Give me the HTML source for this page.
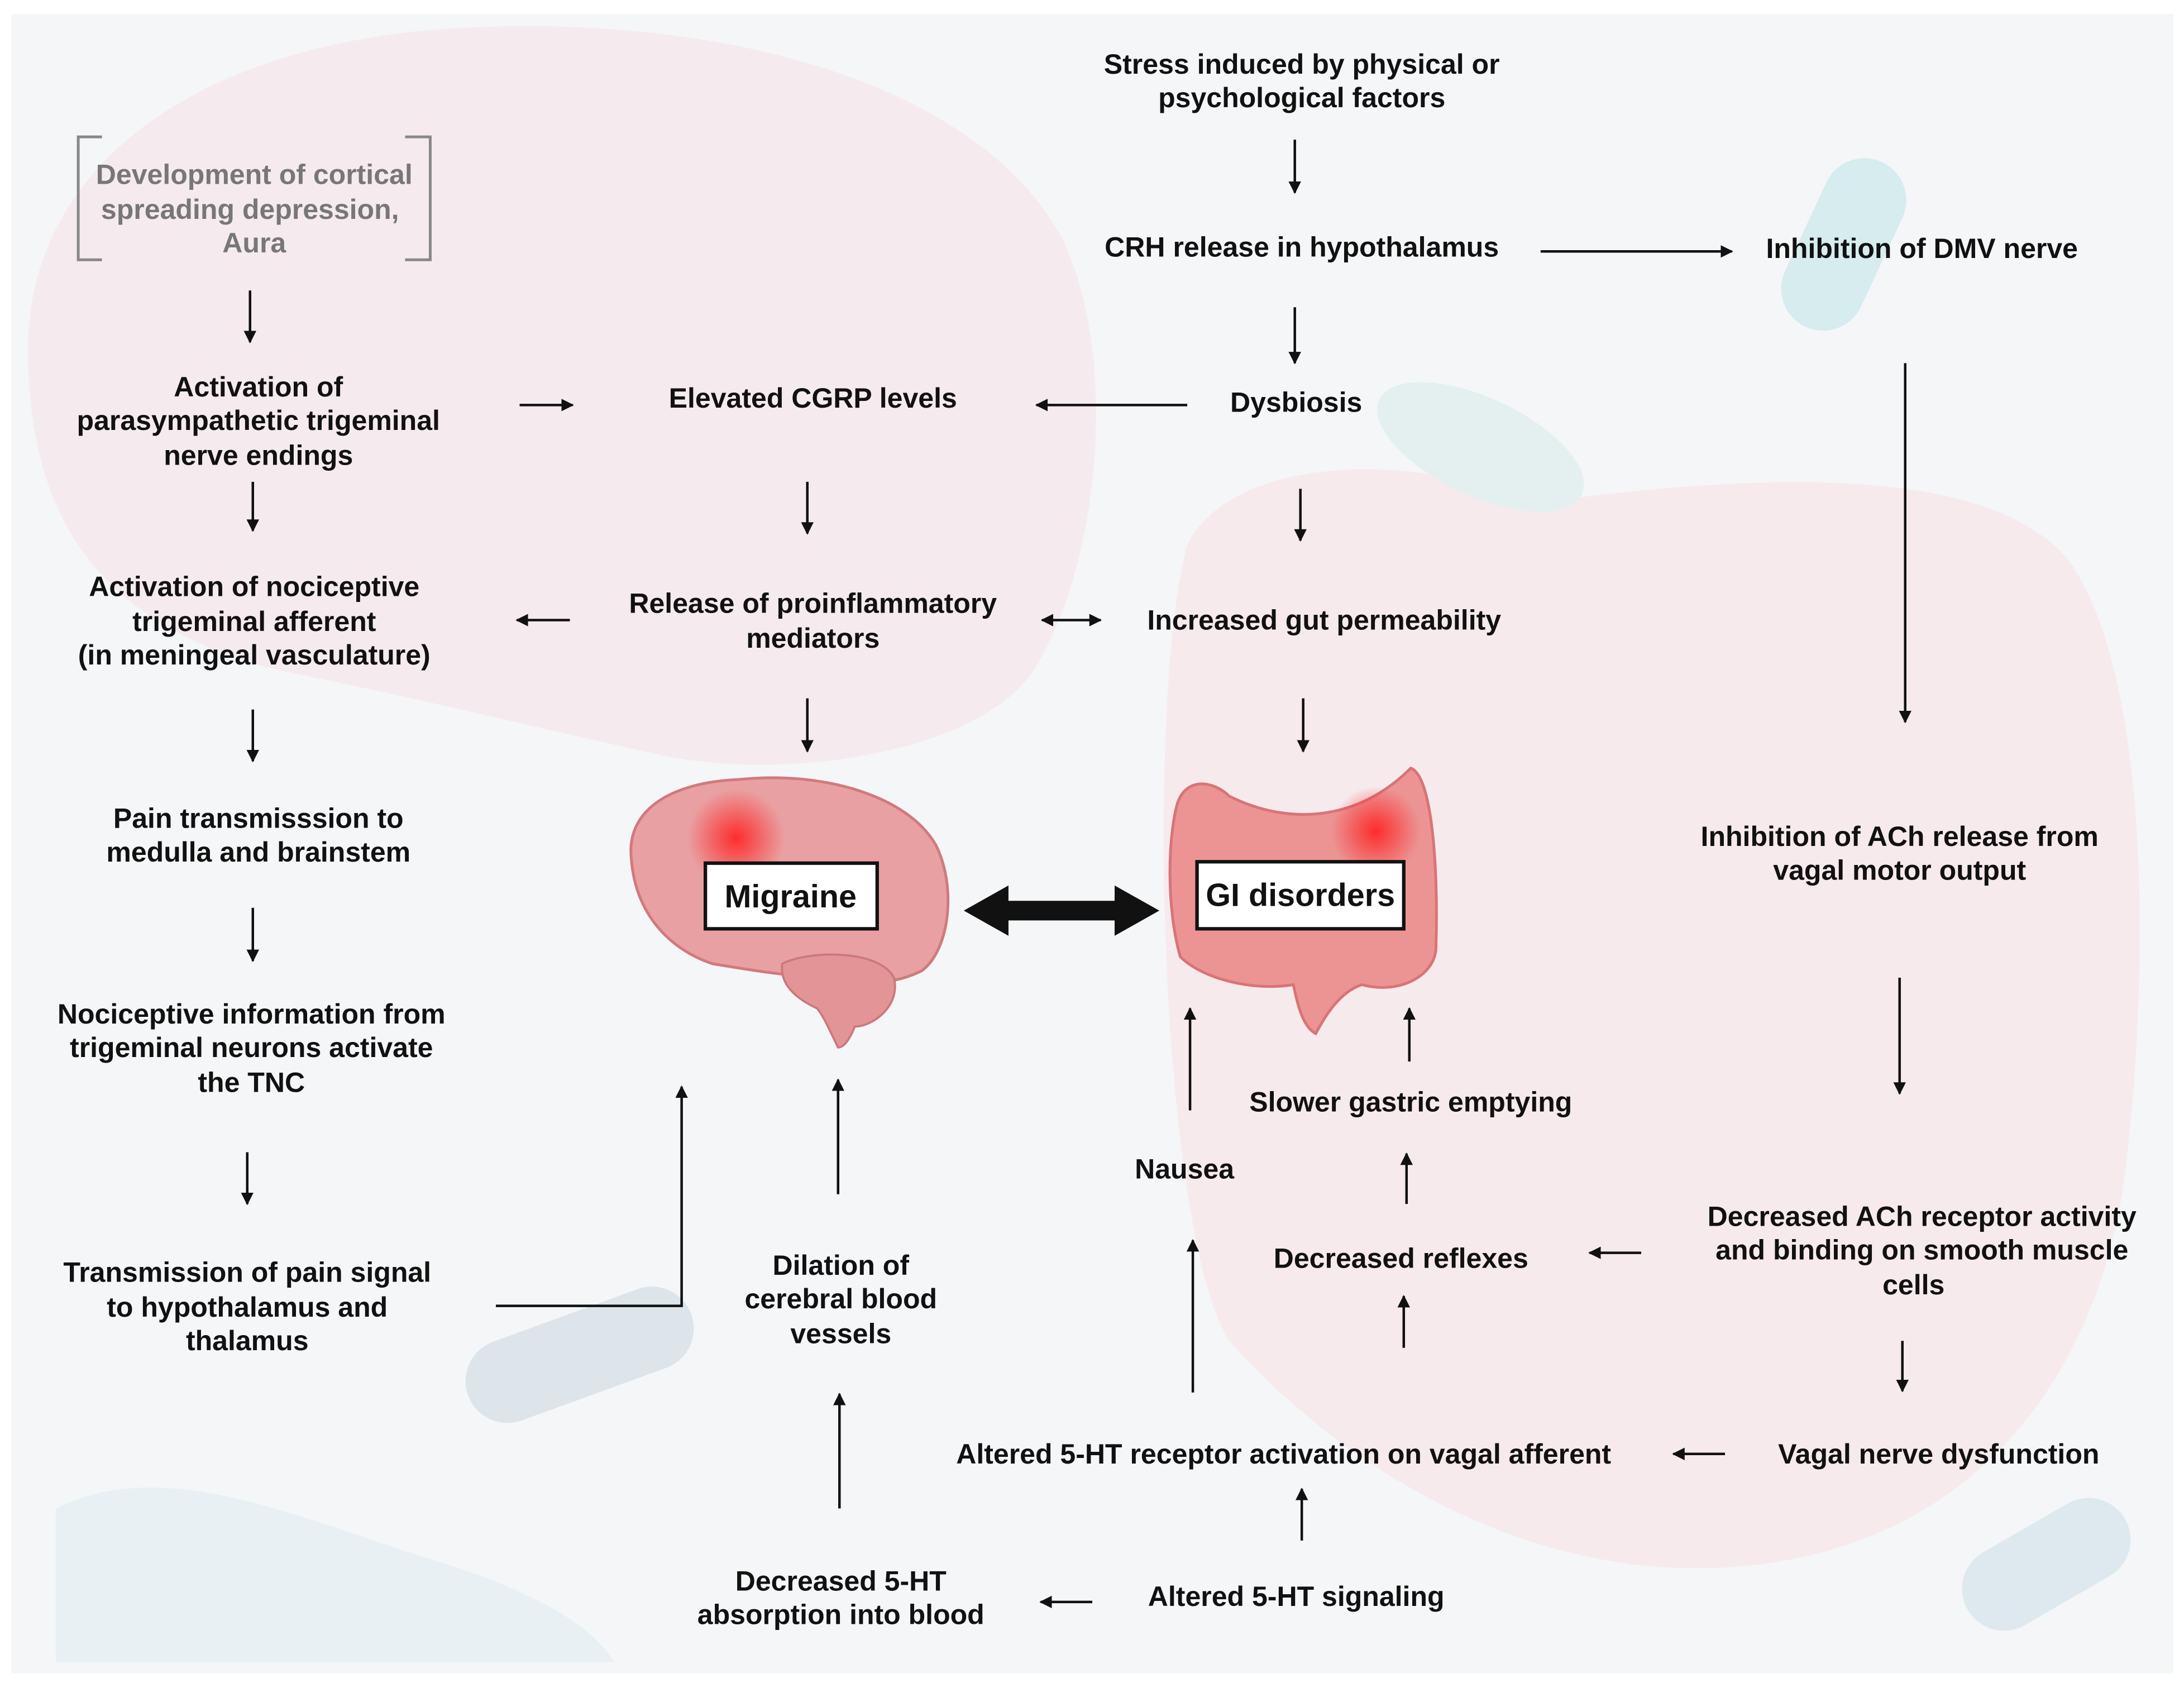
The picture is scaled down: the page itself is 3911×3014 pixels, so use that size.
<!DOCTYPE html>
<html><head><meta charset="utf-8"><style>
html,body{margin:0;padding:0;background:#fff}
svg{display:block}
text{font-family:"Liberation Sans",sans-serif;font-weight:bold;font-size:20px;fill:#111;text-anchor:middle;dominant-baseline:central}
</style></head><body>
<svg width="3911" height="3014" viewBox="0 0 1563.6 1205" xmlns="http://www.w3.org/2000/svg">
<defs>
<marker id="a" viewBox="0 0 10 10" refX="9" refY="5" markerWidth="5" markerHeight="5" orient="auto-start-reverse"><path d="M0,0L10,5L0,10z" fill="#111"/></marker>
<radialGradient id="hot"><stop offset="0" stop-color="#ff2020" stop-opacity=".9"/><stop offset="1" stop-color="#ff2020" stop-opacity="0"/></radialGradient>
</defs>
<rect x="8" y="10" width="1548" height="1188" fill="#f4f6f8"/>
<!-- faint background shapes -->
<path d="M20,250 C20,120 140,30 330,20 C520,10 700,60 760,170 C800,250 790,400 740,480 C700,540 560,560 470,540 C380,520 300,500 200,480 C80,450 20,380 20,250z" fill="#f6e2e5" opacity=".55"/>
<path d="M850,390 C880,330 1000,320 1100,360 C1250,340 1420,330 1480,400 C1540,480 1540,700 1520,850 C1500,980 1420,1100 1260,1120 C1100,1140 960,1050 880,960 C830,880 820,500 850,390z" fill="#f6e2e5" opacity=".6"/>
<rect x="330" y="940" width="170" height="60" rx="30" transform="rotate(-20 415 970)" fill="#dde5ea"/>
<path d="M40,1080 C120,1040 220,1090 320,1120 C380,1140 420,1160 440,1190 L40,1190z" fill="#e2eef1" opacity=".7"/>
<rect x="1290" y="110" width="60" height="130" rx="30" transform="rotate(25 1320 175)" fill="#d6ecef"/>
<rect x="1400" y="1090" width="130" height="60" rx="30" transform="rotate(-30 1465 1120)" fill="#dde9ee"/>
<ellipse cx="1060" cy="320" rx="80" ry="35" transform="rotate(25 1060 320)" fill="#e3f0ef"/>
<!-- brackets -->
<path d="M73,98 L56,98 L56,186 L73,186 M290,98 L308,98 L308,186 L290,186" fill="none" stroke="#888" stroke-width="2"/>
<text x="182" y="125" style="fill:#777">Development of cortical</text>
<text x="179" y="150" style="fill:#777">spreading depression,</text>
<text x="182" y="174" style="fill:#777">Aura</text>
<text x="185" y="277">Activation of</text><text x="185" y="301">parasympathetic trigeminal</text><text x="185" y="326">nerve endings</text>
<text x="582" y="285">Elevated CGRP levels</text>
<text x="928" y="288">Dysbiosis</text>
<text x="932" y="46">Stress induced by physical or</text><text x="932" y="70">psychological factors</text>
<text x="932" y="177">CRH release in hypothalamus</text>
<text x="1376" y="178">Inhibition of DMV nerve</text>
<text x="182" y="420">Activation of nociceptive</text><text x="182" y="445">trigeminal afferent</text><text x="182" y="469">(in meningeal vasculature)</text>
<text x="582" y="432">Release of proinflammatory</text><text x="582" y="457">mediators</text>
<text x="948" y="444">Increased gut permeability</text>
<text x="185" y="586">Pain transmisssion to</text><text x="185" y="610">medulla and brainstem</text>
<text x="1360" y="599">Inhibition of ACh release from</text><text x="1360" y="623">vagal motor output</text>
<text x="180" y="726">Nociceptive information from</text><text x="180" y="750">trigeminal neurons activate</text><text x="180" y="775">the TNC</text>
<text x="1010" y="789">Slower gastric emptying</text>
<text x="848" y="837">Nausea</text>
<text x="177" y="911">Transmission of pain signal</text><text x="177" y="936">to hypothalamus and</text><text x="177" y="960">thalamus</text>
<text x="602" y="906">Dilation of</text><text x="602" y="930">cerebral blood</text><text x="602" y="955">vessels</text>
<text x="1003" y="901">Decreased reflexes</text>
<text x="1376" y="871">Decreased ACh receptor activity</text><text x="1376" y="895">and binding on smooth muscle</text><text x="1370" y="920">cells</text>
<text x="919" y="1041">Altered 5-HT receptor activation on vagal afferent</text>
<text x="1388" y="1041">Vagal nerve dysfunction</text>
<text x="602" y="1132">Decreased 5-HT</text><text x="602" y="1156">absorption into blood</text>
<text x="928" y="1143">Altered 5-HT signaling</text>
<!-- brain -->
<path d="M452,615 C448,580 480,560 530,558 C590,552 650,570 670,605 C685,635 680,680 660,695 C640,705 620,705 600,700 C570,700 540,695 510,690 C480,680 455,655 452,615z" fill="#e9a0a2" stroke="#d07a7e" stroke-width="2"/>
<path d="M560,690 C580,680 630,680 640,700 C645,720 625,735 612,735 C608,745 604,750 600,750 C595,740 590,728 585,722 C570,715 558,705 560,690z" fill="#e39496" stroke="#cc777b" stroke-width="1.5"/>
<circle cx="527" cy="600" r="35" fill="url(#hot)"/>
<rect x="505" y="618" width="123" height="47" fill="#fff" stroke="#111" stroke-width="2.5"/>
<text x="566" y="642" style="font-size:23px">Migraine</text>
<!-- GI -->
<path d="M843,575 C850,555 870,560 880,570 C920,590 970,590 1010,550 C1025,555 1030,620 1028,680 C1026,700 1000,712 975,705 C960,710 950,725 942,740 C932,735 928,715 926,705 C895,710 860,700 845,685 C835,650 836,600 843,575z" fill="#ec9494" stroke="#d87478" stroke-width="2"/>
<circle cx="985" cy="595" r="32" fill="url(#hot)"/>
<rect x="857" y="617" width="148" height="48" fill="#fff" stroke="#111" stroke-width="2.5"/>
<text x="931" y="641" style="font-size:23px">GI disorders</text>
<path d="M690,652 L722,634 L722,645 L798,645 L798,634 L830,652 L798,670 L798,659 L722,659 L722,670z" fill="#111"/>
<g stroke="#111" stroke-width="1.8" fill="none" marker-end="url(#a)">
<line x1="179" y1="208" x2="179" y2="245"/>
<line x1="372" y1="290" x2="410" y2="290"/>
<line x1="850" y1="290" x2="742" y2="290"/>
<line x1="181" y1="345" x2="181" y2="380"/>
<line x1="578" y1="345" x2="578" y2="382"/>
<line x1="931" y1="350" x2="931" y2="387"/>
<line x1="408" y1="444" x2="370" y2="444"/>
<line x1="746" y1="444" x2="788" y2="444" marker-start="url(#a)"/>
<line x1="181" y1="508" x2="181" y2="545"/>
<line x1="578" y1="500" x2="578" y2="538"/>
<line x1="933" y1="500" x2="933" y2="538"/>
<line x1="181" y1="650" x2="181" y2="688"/>
<line x1="177" y1="825" x2="177" y2="862"/>
<polyline points="355,935 488,935 488,778"/>
<line x1="600" y1="855" x2="600" y2="773"/>
<line x1="601" y1="1080" x2="601" y2="998"/>
<line x1="782" y1="1147" x2="745" y2="1147"/>
<line x1="932" y1="1103" x2="932" y2="1066"/>
<line x1="1235" y1="1041" x2="1198" y2="1041"/>
<line x1="1362" y1="960" x2="1362" y2="996"/>
<line x1="1175" y1="897" x2="1138" y2="897"/>
<line x1="1005" y1="965" x2="1005" y2="928"/>
<line x1="1007" y1="862" x2="1007" y2="826"/>
<line x1="1009" y1="760" x2="1009" y2="722"/>
<line x1="852" y1="795" x2="852" y2="722"/>
<line x1="854" y1="997" x2="854" y2="888"/>
<line x1="927" y1="100" x2="927" y2="138"/>
<line x1="1103" y1="180" x2="1240" y2="180"/>
<line x1="927" y1="220" x2="927" y2="260"/>
<line x1="1364" y1="260" x2="1364" y2="517"/>
<line x1="1360" y1="700" x2="1360" y2="783"/>
</g>
</svg>
</body></html>
